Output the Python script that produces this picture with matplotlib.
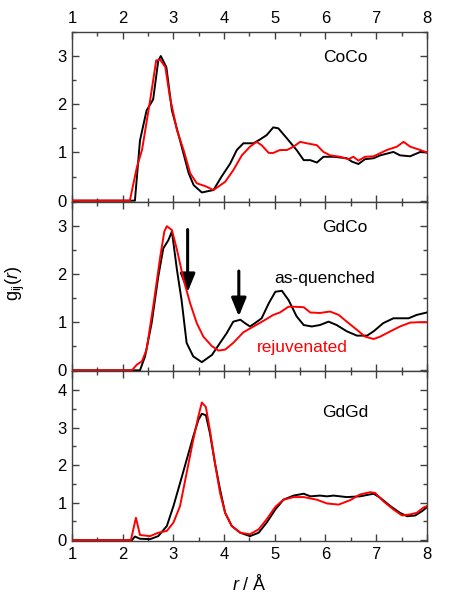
import matplotlib.pyplot as plt
from matplotlib.ticker import MultipleLocator

plt.rcParams['font.family'] = ['Liberation Sans', 'DejaVu Sans']
plt.rcParams['mathtext.fontset'] = 'custom'
plt.rcParams['mathtext.it'] = 'Liberation Sans:italic'
plt.rcParams['mathtext.rm'] = 'Liberation Sans'

# CoCo partial
coco_aq_r = [1.0, 2.24, 2.34, 2.47, 2.6, 2.7, 2.75, 2.86, 2.97, 3.13, 3.3, 3.4, 3.56, 3.79, 3.95,
             4.12, 4.25, 4.38, 4.58, 4.71, 4.84, 4.97, 5.07, 5.24, 5.43, 5.57, 5.7, 5.83, 5.96,
             6.16, 6.42, 6.52, 6.65, 6.78, 6.95, 7.08, 7.34, 7.47, 7.67, 7.87, 8.0]
coco_aq_g = [0.0, 0.0, 1.25, 1.87, 2.1, 2.9, 3.0, 2.77, 1.87, 1.25, 0.57, 0.32, 0.17, 0.22, 0.5,
             0.77, 1.05, 1.19, 1.19, 1.27, 1.36, 1.52, 1.5, 1.29, 1.05, 0.84, 0.84, 0.79, 0.91,
             0.91, 0.88, 0.81, 0.76, 0.86, 0.88, 0.94, 1.01, 0.94, 0.92, 1.01, 1.0]
coco_rj_r = [1.0, 2.14, 2.28, 2.38, 2.54, 2.66, 2.74, 2.84, 2.93, 3.07, 3.2, 3.33, 3.46, 3.63,
             3.79, 4.02, 4.18, 4.35, 4.51, 4.64, 4.74, 4.88, 4.97, 5.1, 5.24, 5.37, 5.5, 5.63,
             5.83, 5.96, 6.09, 6.29, 6.45, 6.55, 6.65, 6.78, 6.95, 7.21, 7.41, 7.54, 7.67, 7.87, 8.0]
coco_rj_g = [0.0, 0.0, 0.7, 1.05, 2.08, 2.91, 2.92, 2.77, 2.15, 1.46, 1.05, 0.57, 0.36, 0.3,
             0.22, 0.39, 0.63, 0.94, 1.12, 1.22, 1.15, 0.99, 0.99, 1.05, 1.05, 1.12, 1.22, 1.19,
             1.15, 1.01, 0.94, 0.91, 0.86, 0.91, 0.83, 0.91, 0.92, 1.05, 1.12, 1.22, 1.12, 1.05, 1.0]

# GdCo partial
gdco_aq_r = [1.0, 2.34, 2.44, 2.57, 2.7, 2.8, 2.9, 2.97, 3.07, 3.16, 3.26, 3.39, 3.56, 3.76,
             3.92, 4.05, 4.18, 4.32, 4.41, 4.51, 4.61, 4.74, 4.88, 5.01, 5.14, 5.27, 5.43, 5.57,
             5.73, 5.89, 6.06, 6.22, 6.42, 6.62, 6.82, 6.95, 7.14, 7.34, 7.47, 7.64, 7.8, 8.0]
gdco_aq_g = [0.0, 0.0, 0.29, 0.98, 1.94, 2.53, 2.7, 2.88, 2.08, 1.46, 0.57, 0.29, 0.17, 0.32,
             0.57, 0.77, 1.01, 1.05, 0.98, 0.91, 0.98, 1.08, 1.39, 1.63, 1.65, 1.46, 1.12, 0.94,
             0.91, 0.94, 1.01, 0.94, 0.81, 0.72, 0.72, 0.81, 0.98, 1.08, 1.08, 1.08, 1.15, 1.2]
gdco_rj_r = [1.0, 2.18, 2.28, 2.38, 2.47, 2.61, 2.74, 2.82, 2.87, 2.97, 3.07, 3.2, 3.33, 3.46,
             3.59, 3.76, 3.89, 4.02, 4.18, 4.38, 4.58, 4.78, 4.97, 5.1, 5.27, 5.37, 5.57, 5.7,
             5.89, 6.09, 6.26, 6.42, 6.62, 6.78, 6.95, 7.08, 7.28, 7.47, 7.67, 7.87, 8.0]
gdco_rj_g = [0.0, 0.0, 0.12, 0.19, 0.43, 1.39, 2.36, 2.88, 2.99, 2.91, 2.5, 1.88, 1.39, 0.98,
             0.7, 0.5, 0.41, 0.43, 0.57, 0.79, 0.91, 1.03, 1.15, 1.2, 1.32, 1.32, 1.31, 1.2,
             1.19, 1.22, 1.15, 1.01, 0.84, 0.7, 0.65, 0.7, 0.81, 0.91, 0.99, 1.0, 1.0]

# GdGd partial
gdgd_aq_r = [1.0, 2.18, 2.24, 2.34, 2.54, 2.7, 2.87, 3.0, 3.13, 3.26, 3.39, 3.49, 3.56, 3.64,
             3.72, 3.82, 3.92, 4.02, 4.15, 4.32, 4.51, 4.68, 4.84, 5.01, 5.17, 5.37, 5.57, 5.7,
             5.89, 6.03, 6.16, 6.42, 6.68, 6.95, 7.08, 7.28, 7.47, 7.61, 7.77, 7.91, 8.0]
gdgd_aq_g = [0.0, 0.0, 0.1, 0.04, 0.03, 0.11, 0.38, 0.91, 1.52, 2.14, 2.76, 3.2, 3.37, 3.33,
             2.85, 2.05, 1.35, 0.73, 0.38, 0.2, 0.11, 0.2, 0.47, 0.82, 1.08, 1.19, 1.24, 1.17,
             1.19, 1.17, 1.19, 1.15, 1.17, 1.24, 1.13, 0.91, 0.73, 0.64, 0.66, 0.78, 0.88]
gdgd_rj_r = [1.0, 2.16, 2.26, 2.34, 2.54, 2.7, 2.87, 3.0, 3.13, 3.26, 3.39, 3.49, 3.56, 3.64,
             3.72, 3.82, 3.92, 4.02, 4.15, 4.32, 4.51, 4.68, 4.84, 5.01, 5.17, 5.37, 5.57, 5.83,
             6.03, 6.26, 6.49, 6.68, 6.88, 6.98, 7.14, 7.34, 7.51, 7.67, 7.8, 7.93, 8.0]
gdgd_rj_g = [0.0, 0.0, 0.6, 0.14, 0.11, 0.2, 0.25, 0.47, 0.91, 1.79, 2.67, 3.29, 3.67, 3.55,
             2.93, 2.05, 1.26, 0.73, 0.38, 0.2, 0.16, 0.29, 0.56, 0.89, 1.08, 1.15, 1.15, 1.08,
             0.98, 0.95, 1.07, 1.22, 1.28, 1.26, 1.04, 0.82, 0.66, 0.69, 0.73, 0.87, 0.91]

panels = [
    ('CoCo', coco_aq_r, coco_aq_g, coco_rj_r, coco_rj_g, 3.5),
    ('GdCo', gdco_aq_r, gdco_aq_g, gdco_rj_r, gdco_rj_g, 3.5),
    ('GdGd', gdgd_aq_r, gdgd_aq_g, gdgd_rj_r, gdgd_rj_g, 4.5),
]

fig, axes = plt.subplots(3, 1, figsize=(4.59, 6.02), dpi=100, sharex=True)
fig.subplots_adjust(left=0.157, right=0.930, bottom=0.1013, top=0.947, hspace=0)

spine_col = '#404040'
for i, (ax, (name, ar, ag, rr, rg, ymax)) in enumerate(zip(axes, panels)):
    ax.plot(ar, ag, color='black', lw=1.4, zorder=3)
    ax.plot(rr, rg, color='red', lw=1.4, zorder=4)
    ax.set_xlim(1, 8)
    ax.set_ylim(-0.02, ymax)
    ax.xaxis.set_major_locator(MultipleLocator(1))
    ax.xaxis.set_minor_locator(MultipleLocator(0.5))
    ax.yaxis.set_major_locator(MultipleLocator(1))
    ax.yaxis.set_minor_locator(MultipleLocator(0.5))
    ax.tick_params(which='both', direction='in', top=True, right=True, color=spine_col,
                   labelsize=12, width=1)
    ax.tick_params(which='major', length=5)
    ax.tick_params(which='minor', length=3)
    ax.tick_params(axis='both', pad=4)
    for s in ax.spines.values():
        s.set_color(spine_col)
        s.set_linewidth(1)
    if i == 0:
        ax.tick_params(labeltop=True)
    ax.text(0.77, [0.85, 0.85, 0.76][i], name, transform=ax.transAxes, fontsize=12.5,
            ha='center', va='center')

axes[1].text(5.99, 1.9, 'as-quenched', fontsize=12.5, color='black', ha='center', va='center')
axes[1].text(5.54, 0.47, 'rejuvenated', fontsize=12.5, color='red', ha='center', va='center')
arrow_style = dict(arrowstyle='-|>,head_width=0.45,head_length=1.1',
                   color='black', lw=2.2, shrinkA=0, shrinkB=0)
axes[1].annotate('', xy=(3.28, 1.62), xytext=(3.28, 2.92), arrowprops=arrow_style)
axes[1].annotate('', xy=(4.29, 1.12), xytext=(4.29, 2.06), arrowprops=arrow_style)

axes[2].set_xlabel(r'$r$ / Å', fontsize=13, labelpad=9)
fig.text(0.033, 0.53, r'g$_{\mathrm{ij}}$($r$)', rotation=90, fontsize=13,
         ha='center', va='center')

fig.savefig('out.png', dpi=100)
